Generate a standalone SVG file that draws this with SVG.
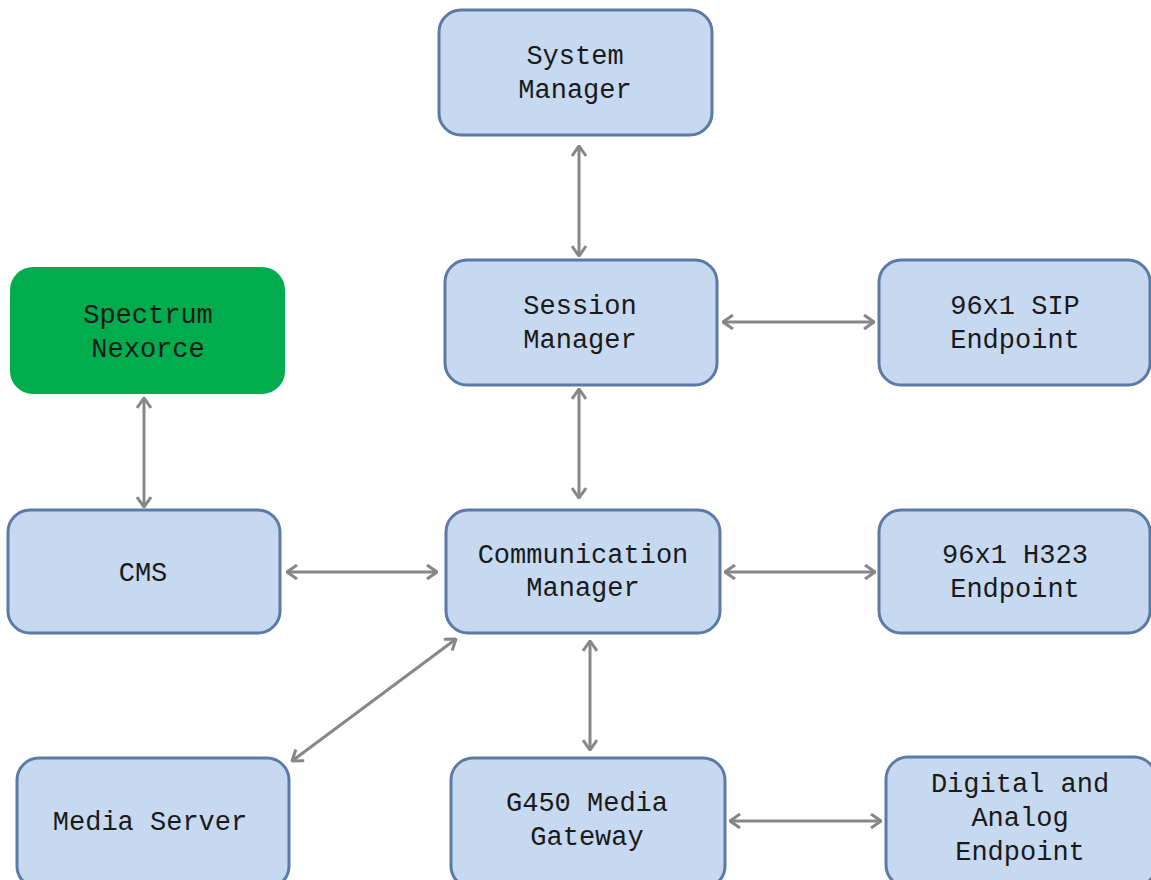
<svg xmlns="http://www.w3.org/2000/svg" width="1151" height="880" viewBox="0 0 1151 880">
<style>
.n{fill:#c6d9f1;stroke:#5b7ba5;stroke-width:3}
.g{fill:#00ac4e;stroke:#00ac4e;stroke-width:2}
.t{font-family:"Liberation Mono","Courier New",monospace;font-size:27px;fill:#1a1a1a;text-anchor:middle}
.c{stroke:#878787;stroke-width:3;fill:none;marker-start:url(#a);marker-end:url(#a)}
</style>
<defs>
<marker id="a" viewBox="0 0 12 16" refX="11" refY="8" markerWidth="12" markerHeight="16" markerUnits="userSpaceOnUse" orient="auto-start-reverse">
<path d="M1,1 L11,8 L1,15" fill="none" stroke="#878787" stroke-width="3"/>
</marker>
</defs>
<rect width="1151" height="880" fill="#fff"/>
<g id="connectors">
<line class="c" x1="579" y1="146" x2="579" y2="256"/>
<line class="c" x1="723" y1="322" x2="874" y2="322"/>
<line class="c" x1="579" y1="389" x2="579" y2="498"/>
<line class="c" x1="144" y1="398" x2="144" y2="507"/>
<line class="c" x1="287" y1="572" x2="437" y2="572"/>
<line class="c" x1="725" y1="572" x2="875" y2="572"/>
<line class="c" x1="456" y1="639" x2="292" y2="761"/>
<line class="c" x1="590" y1="641" x2="590" y2="750"/>
<line class="c" x1="730" y1="821" x2="881" y2="821"/>
</g>
<g id="system-manager"><rect class="n" x="439" y="10" width="273" height="125" rx="22"/><text class="t" x="575" y="64">System</text><text class="t" x="575" y="98">Manager</text></g>
<g id="session-manager"><rect class="n" x="445" y="260" width="272" height="125" rx="22"/><text class="t" x="580" y="314">Session</text><text class="t" x="580" y="348">Manager</text></g>
<g id="sip-endpoint"><rect class="n" x="879" y="260" width="271" height="125" rx="22"/><text class="t" x="1015" y="314">96x1 SIP</text><text class="t" x="1015" y="348">Endpoint</text></g>
<g id="spectrum-nexorce"><rect class="g" x="11" y="268" width="273" height="125" rx="22"/><text class="t" x="148" y="323">Spectrum</text><text class="t" x="148" y="357">Nexorce</text></g>
<g id="cms"><rect class="n" x="8" y="510" width="272" height="123" rx="22"/><text class="t" x="143" y="581">CMS</text></g>
<g id="communication-manager"><rect class="n" x="446" y="510" width="274" height="123" rx="22"/><text class="t" x="583" y="563">Communication</text><text class="t" x="583" y="596">Manager</text></g>
<g id="h323-endpoint"><rect class="n" x="879" y="510" width="271" height="123" rx="22"/><text class="t" x="1015" y="563">96x1 H323</text><text class="t" x="1015" y="597">Endpoint</text></g>
<g id="media-server"><rect class="n" x="17" y="758" width="272" height="130" rx="22"/><text class="t" x="150" y="830">Media Server</text></g>
<g id="g450"><rect class="n" x="451" y="758" width="274" height="130" rx="22"/><text class="t" x="587" y="811">G450 Media</text><text class="t" x="587" y="845">Gateway</text></g>
<g id="digital-analog"><rect class="n" x="886" y="757" width="270" height="130" rx="22"/><text class="t" x="1020" y="792">Digital and</text><text class="t" x="1020" y="826">Analog</text><text class="t" x="1020" y="860">Endpoint</text></g>
</svg>
